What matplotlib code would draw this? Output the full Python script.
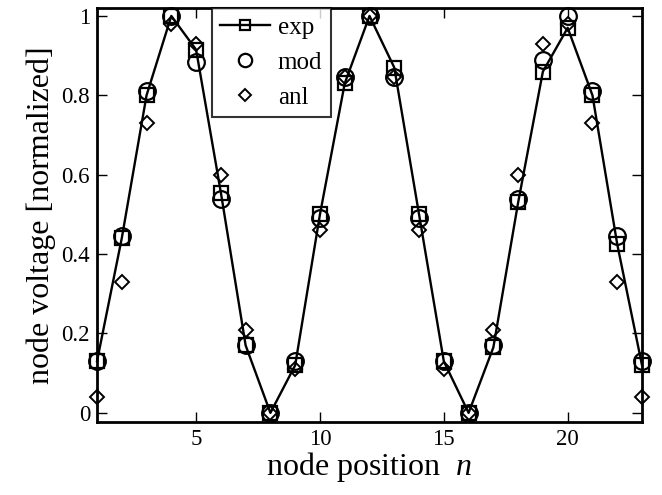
import numpy as np
import matplotlib
matplotlib.use('Agg')
import matplotlib.pyplot as plt

plt.rcParams['font.family'] = ['Liberation Serif', 'DejaVu Serif']
plt.rcParams['mathtext.fontset'] = 'custom'
plt.rcParams['mathtext.it'] = 'Liberation Serif:italic'
plt.rcParams['mathtext.rm'] = 'Liberation Serif'

node = np.arange(1, 24)
exp_v = [0.13, 0.44, 0.80, 1.00, 0.915, 0.555, 0.17, 0.00, 0.12, 0.50, 0.83, 1.00,
         0.87, 0.50, 0.13, 0.00, 0.165, 0.53, 0.86, 0.97, 0.80, 0.425, 0.12]
mod_v = [0.13, 0.445, 0.81, 1.00, 0.885, 0.54, 0.17, 0.00, 0.13, 0.49, 0.846, 1.00,
         0.846, 0.49, 0.13, 0.00, 0.17, 0.54, 0.889, 1.00, 0.81, 0.445, 0.13]
anl_v = [0.04, 0.33, 0.73, 0.98, 0.93, 0.60, 0.21, 0.00, 0.11, 0.46, 0.845, 1.00,
         0.845, 0.46, 0.11, 0.00, 0.21, 0.60, 0.93, 0.98, 0.73, 0.33, 0.04]

fig = plt.figure(figsize=(6.62, 4.95), dpi=100)
ax = fig.add_axes([97/662, 1 - 422/495, (642-97)/662, (422-8)/495])

ax.plot(node, exp_v, 'k-s', lw=1.7, ms=9.5, mfc='none', mew=1.6, label='exp', clip_on=False)
ax.plot(node, mod_v, 'ko', ms=12, mfc='none', mew=1.6, label='mod', clip_on=False)
ax.plot(node, anl_v, 'kD', ms=7.5, mfc='none', mew=1.4, label='anl', clip_on=False)

ax.set_xlim(1, 23)
ax.set_ylim(-0.023, 1.02)
ax.set_xticks([5, 10, 15, 20])
ax.set_yticks([0, 0.2, 0.4, 0.6, 0.8, 1])
ax.set_yticklabels(['0', '0.2', '0.4', '0.6', '0.8', '1'])
ax.tick_params(direction='in', top=True, right=True, length=7, width=1.0, labelsize=16.5, pad=5)
for s in ax.spines.values():
    s.set_linewidth(2)

ax.set_xlabel('node position  $n$', fontsize=23, labelpad=0)
ax.set_ylabel('node voltage [normalized]', fontsize=23, labelpad=4)

leg = ax.legend(loc='upper left', bbox_to_anchor=((212-97)/545, 1.0), fontsize=18,
                frameon=True, fancybox=False, edgecolor='k', borderpad=0.33,
                handlelength=2.0, handletextpad=0.3, labelspacing=0.5,
                borderaxespad=0, markerscale=0.8)
leg.get_frame().set_linewidth(1.5)

fig.savefig('out.png', dpi=100)
